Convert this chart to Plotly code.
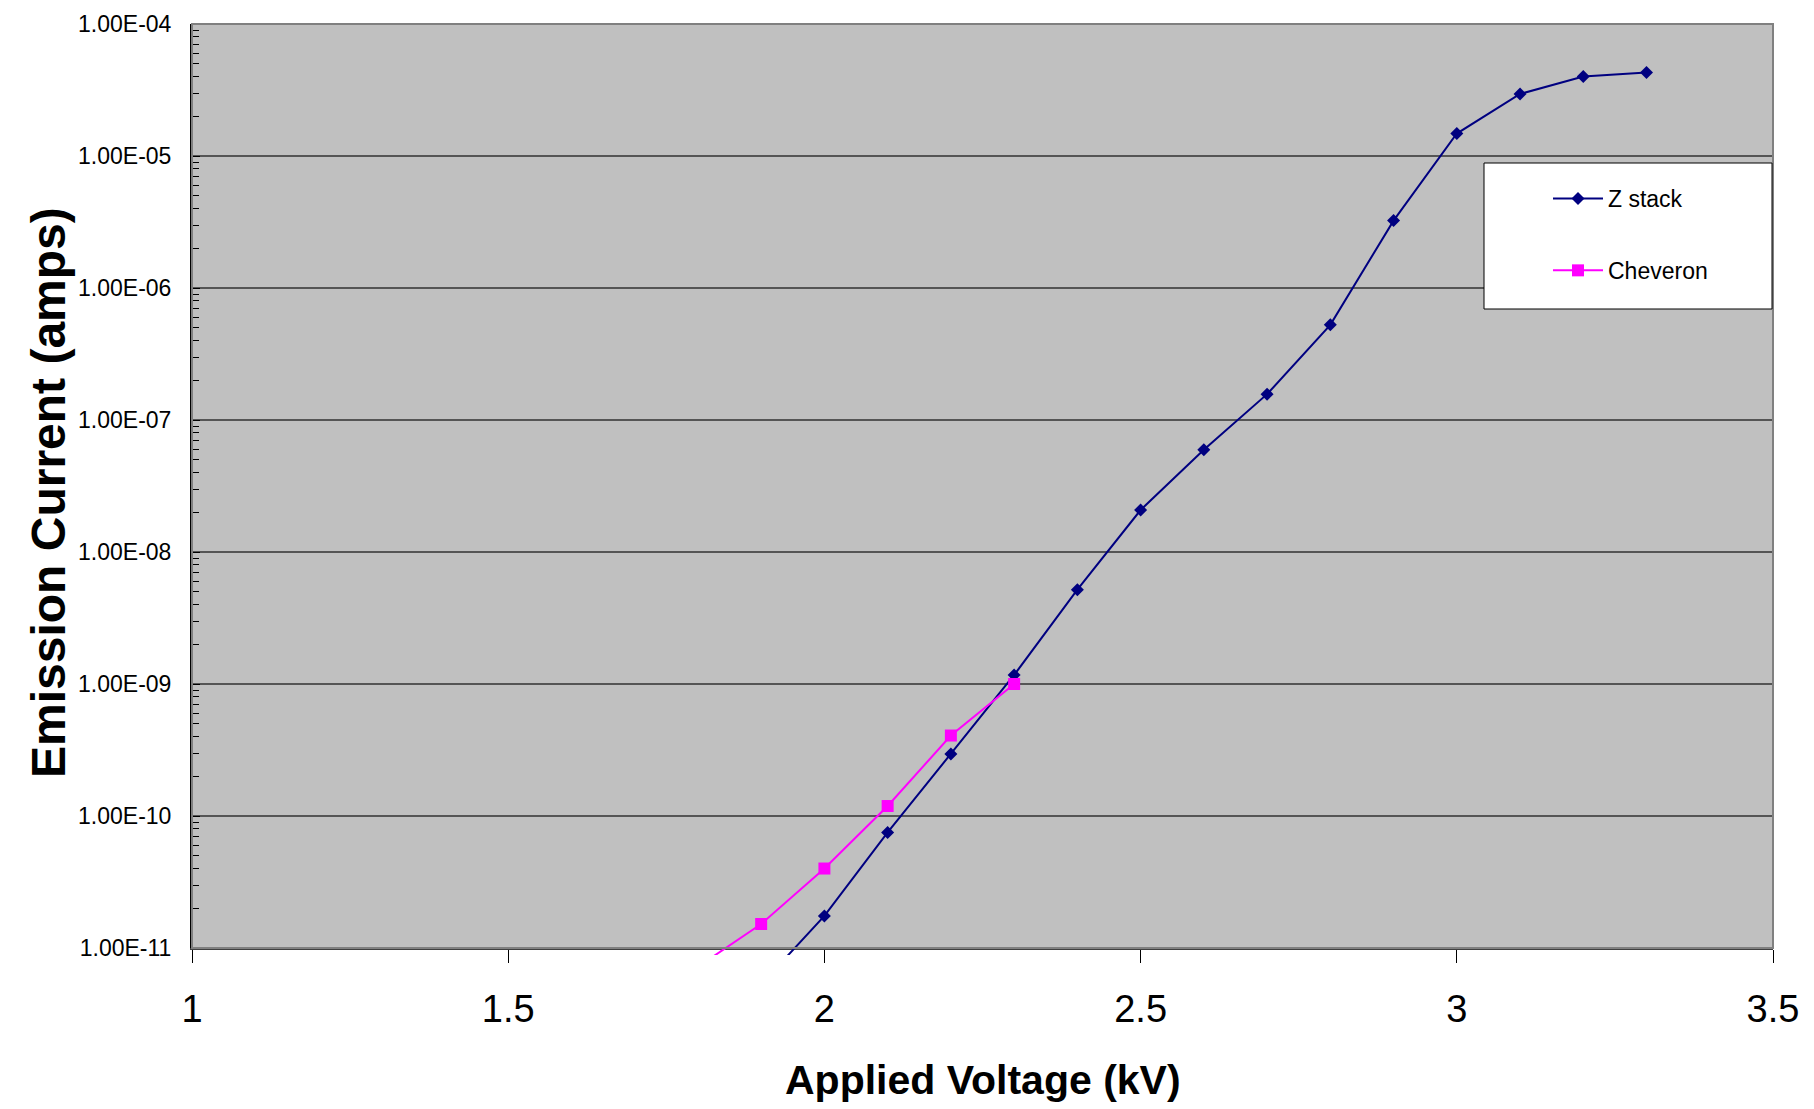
import plotly.graph_objects as go

# ---- data ----
voltage_z = [1.9, 2.0, 2.1, 2.2, 2.3, 2.4, 2.5, 2.6, 2.7, 2.8, 2.9, 3.0, 3.1, 3.2, 3.3]
current_z = [5.3e-12, 1.75e-11, 7.5e-11, 2.95e-10, 1.17e-9, 5.18e-9, 2.08e-8, 5.95e-8,
             1.57e-7, 5.26e-7, 3.24e-6, 1.48e-5, 2.95e-5, 4.0e-5, 4.3e-5]
voltage_c = [1.8, 1.9, 2.0, 2.1, 2.2, 2.3]
current_c = [7.2e-12, 1.52e-11, 4.0e-11, 1.19e-10, 4.07e-10, 1.0e-9]

y_tickvals = [1e-11, 1e-10, 1e-9, 1e-8, 1e-7, 1e-6, 1e-5, 1e-4]
y_ticktext = ["1.00E-11", "1.00E-10", "1.00E-09", "1.00E-08", "1.00E-07",
              "1.00E-06", "1.00E-05", "1.00E-04"]
x_tickvals = [1, 1.5, 2, 2.5, 3, 3.5]
x_ticktext = ["1", "1.5", "2", "2.5", "3", "3.5"]

series_names = ["Z stack", "Cheveron"]
x_title = "Applied Voltage (kV)"
y_title = "Emission Current (amps)"

ARIAL = "Liberation Sans, Arial, sans-serif"

# geometry (pixels of the 1814x1109 page)
PLOT_TOP, PLOT_BOTTOM, TAIL = 24, 948, 7
AREA_H = PLOT_BOTTOM + TAIL - PLOT_TOP          # extended plot area (lines run slightly below axis)
DEC_PX = (PLOT_BOTTOM - PLOT_TOP) / 7.0


def py(pix):  # page y pixel -> paper fraction
    return (PLOT_BOTTOM + TAIL - pix) / AREA_H


def px(pix):  # page x pixel -> paper fraction
    return (pix - 192) / 1581


fig = go.Figure()
# empty trace so the visible (main) axes get drawn
fig.add_trace(go.Scatter(x=[None], y=[None], mode="markers", showlegend=False,
                         hoverinfo="skip", xaxis="x", yaxis="y"))
fig.add_trace(go.Scatter(
    x=voltage_z, y=current_z, mode="lines+markers", name=series_names[0],
    line=dict(color="#000080", width=2),
    marker=dict(symbol="diamond", size=10, color="#000080"),
    legendgroup="a", xaxis="x2", yaxis="y2",
))
fig.add_trace(go.Scatter(
    x=voltage_c, y=current_c, mode="lines+markers", name=series_names[1],
    line=dict(color="#FF00FF", width=2),
    marker=dict(symbol="square", size=12, color="#FF00FF"),
    legendgroup="b", xaxis="x2", yaxis="y2",
))

fig.update_layout(
    width=1814, height=1109,
    margin=dict(l=192, r=41, t=PLOT_TOP, b=1109 - PLOT_BOTTOM - TAIL),
    paper_bgcolor="white",
    plot_bgcolor="rgba(0,0,0,0)",
    showlegend=True,
    legend=dict(
        x=px(1548), y=py(177), xanchor="left", yanchor="top",
        bgcolor="rgba(0,0,0,0)", borderwidth=0,
        font=dict(family=ARIAL, size=23, color="black"),
        tracegroupgap=39, itemwidth=50,
    ),
    xaxis=dict(
        range=[1, 3.5], tickmode="array", tickvals=x_tickvals, ticktext=x_ticktext,
        ticks="outside", ticklen=13, tickwidth=1, tickcolor="black",
        showgrid=False, zeroline=False, anchor="y",
        showline=True, linecolor="#404040", linewidth=2,
        tickfont=dict(family=ARIAL, size=38, color="black"),
        ticklabelstandoff=13,
    ),
    yaxis=dict(
        type="log", range=[-11, -4], domain=[TAIL / AREA_H, 1], anchor="x",
        tickmode="array", tickvals=y_tickvals, ticktext=y_ticktext,
        ticks="inside", ticklen=8, tickwidth=1, tickcolor="black",
        showgrid=True, gridcolor="#555555", gridwidth=1.5,
        zeroline=False,
        showline=True, linecolor="black", linewidth=2,
        tickfont=dict(family=ARIAL, size=23, color="black"),
        ticklabelstandoff=14,
        minor=dict(ticks="inside", ticklen=7, tickcolor="black", dtick="D1", showgrid=False),
    ),
    xaxis2=dict(range=[1, 3.5], domain=[0, 1], anchor="y2", visible=False),
    yaxis2=dict(type="log", range=[-11 - TAIL / DEC_PX, -4], domain=[0, 1], anchor="x2",
                visible=False),
    shapes=[
        # plot background (gray), below gridlines
        dict(type="rect", xref="paper", yref="paper", x0=0, x1=1, y0=py(PLOT_BOTTOM), y1=1,
             fillcolor="#C0C0C0", line=dict(width=0), layer="below"),
        # plot-area border (top/right)
        dict(type="rect", xref="paper", yref="paper", x0=0, x1=1, y0=py(PLOT_BOTTOM), y1=1,
             line=dict(color="#808080", width=2), layer="above"),
        # legend box
        dict(type="rect", xref="paper", yref="paper",
             x0=px(1484), x1=px(1772), y0=py(309), y1=py(163),
             line=dict(color="black", width=1), fillcolor="white", layer="above"),
    ],
    annotations=[
        dict(text=x_title, xref="paper", yref="paper", x=px(983), y=py(1080),
             xanchor="center", yanchor="middle", showarrow=False,
             font=dict(family=ARIAL, size=41, color="black", weight="bold")),
        dict(text=y_title, xref="paper", yref="paper", x=px(48), y=py(493),
             xanchor="center", yanchor="middle", showarrow=False, textangle=-90,
             font=dict(family=ARIAL, size=48, color="black", weight="bold")),
    ],
)

fig.write_html("out.html")
